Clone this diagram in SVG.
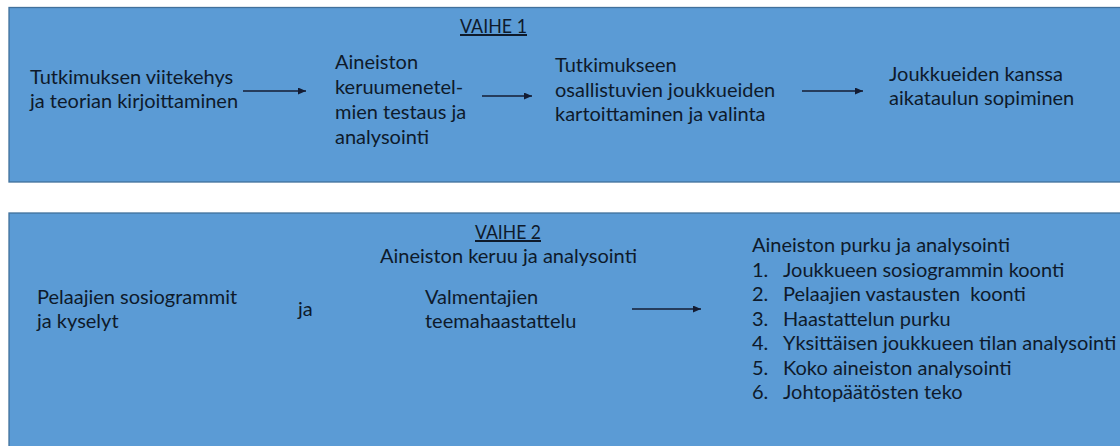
<svg xmlns="http://www.w3.org/2000/svg" width="1120" height="446" viewBox="0 0 1120 446">
<defs>
<style>
.panel{fill:#5B9BD5;stroke:#41719C;stroke-width:1.3}
.t{font-family:Lato,"Open Sans","Liberation Sans",sans-serif;font-size:20px;fill:#0E1A2B}
.u{text-decoration:underline}
.pre{white-space:pre}
.conn{stroke:#141C33;stroke-width:1.4;fill:none;marker-end:url(#ah)}
</style>
<marker id="ah" markerUnits="userSpaceOnUse" markerWidth="8" markerHeight="7" refX="8" refY="3.5" orient="auto">
<path d="M0,0 L8,3.5 L0,7 z" fill="#141C33"/>
</marker>
</defs>
<rect width="1120" height="446" fill="#ffffff"/>
<g id="vaihe1">
<rect class="panel" x="9" y="7.5" width="1120" height="174.5"/>
<text class="t u" x="460" y="33" textLength="67" lengthAdjust="spacingAndGlyphs">VAIHE 1</text>
</g>
<g id="n1"><text class="t" x="30"><tspan x="30" y="84">Tutkimuksen viitekehys</tspan><tspan x="30" y="108">ja teorian kirjoittaminen</tspan></text></g>
<g id="n2"><text class="t"><tspan x="335" y="69">Aineiston</tspan><tspan x="335" y="94">keruumenetel-</tspan><tspan x="335" y="119">mien testaus ja</tspan><tspan x="335" y="144">analysointi</tspan></text></g>
<g id="n3"><text class="t"><tspan x="555" y="72">Tutkimukseen</tspan><tspan x="555" y="97">osallistuvien joukkueiden</tspan><tspan x="555" y="121">kartoittaminen ja valinta</tspan></text></g>
<g id="n4"><text class="t"><tspan x="889" y="81">Joukkueiden kanssa</tspan><tspan x="889" y="105">aikataulun sopiminen</tspan></text></g>
<g id="vaihe2">
<rect class="panel" x="9" y="213" width="1120" height="250"/>
<text class="t u" x="475" y="239" textLength="66" lengthAdjust="spacingAndGlyphs">VAIHE 2</text>
<text class="t" x="380" y="263">Aineiston keruu ja analysointi</text>
</g>
<g id="n5"><text class="t"><tspan x="37" y="304">Pelaajien sosiogrammit</tspan><tspan x="37" y="328">ja kyselyt</tspan></text></g>
<g id="n6"><text class="t" x="298" y="316">ja</text></g>
<g id="n7"><text class="t"><tspan x="425" y="304">Valmentajien</tspan><tspan x="425" y="328">teemahaastattelu</tspan></text></g>
<g id="n8"><text class="t"><tspan x="752" y="252">Aineiston purku ja analysointi</tspan><tspan x="752" y="276.5">1.</tspan><tspan x="783" y="276.5">Joukkueen sosiogrammin koonti</tspan><tspan x="752" y="301">2.</tspan><tspan class="pre" x="783" y="301">Pelaajien vastausten  koonti</tspan><tspan x="752" y="325.5">3.</tspan><tspan x="783" y="325.5">Haastattelun purku</tspan><tspan x="752" y="350">4.</tspan><tspan x="783" y="350">Yksittäisen joukkueen tilan analysointi</tspan><tspan x="752" y="374.5">5.</tspan><tspan x="783" y="374.5">Koko aineiston analysointi</tspan><tspan x="752" y="399">6.</tspan><tspan x="783" y="399">Johtopäätösten teko</tspan></text></g>
<g id="connectors">
<line class="conn" x1="243" y1="91" x2="306" y2="91"/>
<line class="conn" x1="482" y1="96" x2="532" y2="96"/>
<line class="conn" x1="802" y1="91" x2="863" y2="91"/>
<line class="conn" x1="632" y1="309" x2="701" y2="309"/>
</g>
</svg>
